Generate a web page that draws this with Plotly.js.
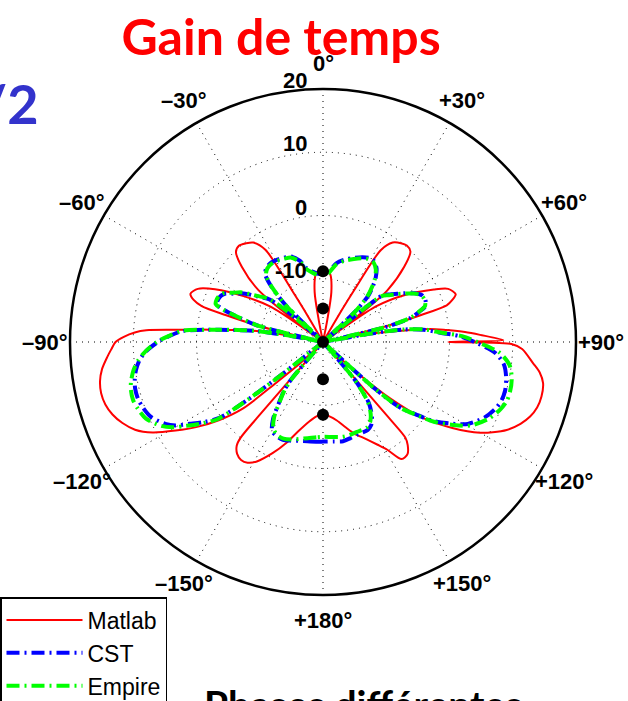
<!DOCTYPE html>
<html>
<head>
<meta charset="utf-8">
<script src="https://cdn.plot.ly/plotly-3.0.1.min.js"></script>
<style>
  html, body { margin: 0; padding: 0; background: #ffffff; }
  #chart { width: 628px; height: 701px; }
</style>
</head>
<body>
<div id="chart"></div>
<script>
// ---- Data (angles in degrees, clockwise from top; gain in dB) ----
const matlabTheta = [-180,-175,-170,-164.4,-160,-155.7,-151,-148,-145.2,-142.5,-140.2,-139.3,-139,-138.5,-134,-133,-131,-129.7,-127,-124,-121,-118,-115,-112,-109,-106,-103,-100,-97,-94,-92,-90,-88.5,-87.1,-86.2,-85.2,-84.2,-83,-81,-79.5,-78.5,-77.5,-76,-74.5,-73.5,-72,-70,-67,-64,-60,-56,-54,-53.5,-51.2,-47.2,-44,-41,-38,-35,-32,-31,-30.5,-29,-12,-11,-9.5,-6.3,-4,0,4,6.3,9.5,11,12,29,30.5,31,32.2,35,38.3,41,44,47.2,51.2,53,54,56,60,64.7,67,70.2,72,73.5,74.6,76,77.5,79,80,81,83,84.5,86,87.4,89.4,90,90.6,92,95.8,98,100.6,104,107,109.8,112.5,115.6,118,120,123.5,127.6,130,131.3,133,134,138.5,139,139.3,140.6,143,146.1,149.1,152,156,161.1,165,170,175,180];
const matlabGain  = [-8.6,-8.2,-7.2,-5.3,-3.0,-0.75,1.6,2.5,2.7,2.3,1.3,0,-4,-20,-20,-15,-10,-3.5,0.5,4,7.2,10.5,12.8,14.2,15.2,15.8,16.0,15.8,15.2,14.2,13.5,12.8,11.5,9.8,8,3,-0.5,-4.5,-8.3,-13,-20,-20,-10,-4,0,1.5,2.3,1.5,-1,-5.5,-10,-20,-20,-6.9,-2.5,-0.2,0.2,-0.2,-0.8,-2.8,-10.4,-14,-20,-20,-16.4,-12,-9.3,-8.7,-8.5,-8.7,-9.3,-12,-16.4,-20,-20,-14,-10.4,-2.8,-0.8,-0.1,0.2,-0.1,-2.5,-6.9,-12,-20,-10,-5.2,-0.6,1.5,2.3,1.5,0.4,-3.9,-10,-20,-20,-13,-9.8,-3,-0.35,2.5,4.85,8.5,-0.2,9.8,11.5,13.4,14.6,15.4,15.6,15.4,14.8,13.8,12.2,10.4,8.7,4.7,-0.65,-6,-10.1,-15,-20,-20,-4,0,1.1,2.2,2.3,-0.1,-1.6,-3.2,-4.7,-6.0,-7.4,-8.2,-8.6];

const cstTheta = [-180,-176,-171,-166,-162,-157.7,-154,-150.2,-147,-144,-141.5,-139.7,-138,-129,-128.3,-127.5,-126.2,-124,-121.6,-119.5,-117.4,-113.4,-110,-107,-104,-101.7,-98.5,-95.5,-93,-90,-88,-85.5,-83.5,-82,-80.7,-79.5,-79,-78,-76,-74,-72,-70.5,-68,-65.5,-63.5,-61.7,-58.5,-55,-51.3,-49,-48,-45.4,-43,-40.4,-37,-33,-29,-25,-21,-16,-12.7,-8,-4,0,4,9.6,15,20.4,25,29.2,32.5,36,39.2,41.5,44.3,46.5,48,49.5,51,52,54.7,57,59.1,62,64.7,67.4,70.6,72.5,74.5,76.5,78,79,80,81.2,83,85.5,87.6,90.6,93.5,97,101,105,108,110.8,115,119.5,122.5,125.7,128,130.4,132,133.5,138.5,140,143,145.5,147.9,150,153,159.2,164,168.6,174,180];
const cstGain  = [-4.25,-4.2,-4.1,-3.9,-3.6,-3.3,-3.4,-3.8,-5.5,-8.2,-10,-12,-20,-20,-12,-5,0.3,2.6,4.7,6.8,8.1,9.7,10.3,10.6,10.6,10.4,9.9,9.1,8.0,6.1,4.5,2.2,-3,-6.5,-9,-14,-20,-20,-9.5,-6.5,-3.5,-2.2,-2.1,-2.3,-2.8,-3.9,-5.3,-7.5,-9.3,-14,-20,-11.8,-8,-5.9,-5.2,-5.0,-5.1,-5.3,-5.5,-6.6,-8,-8.8,-9.2,-9.2,-9.0,-7.4,-6.5,-5.8,-5.2,-4.8,-4.9,-5.6,-6.8,-8,-9.7,-13,-20,-20,-11,-8,-7,-6,-5,-3.6,-2.7,-2.5,-2.8,-4,-5.5,-9.5,-20,-20,-12,-7.1,-4,-1.4,1.7,4.5,7.2,8.8,9.5,9.8,9.7,9.3,8.2,6.3,4,1.4,-1.5,-4,-9,-20,-20,-12,-8,-6.5,-5.4,-4.8,-4.4,-4.4,-4.2,-4.0,-4.2,-4.25];

const empireTheta = [-180,-176,-171,-166,-162,-157.7,-154,-150.2,-147,-144,-141.5,-139.7,-138,-129,-128.3,-127.5,-126.2,-124,-121.6,-119.5,-117.4,-113.4,-110,-107,-104,-101.7,-98.5,-95.5,-93,-90,-88,-85.5,-83.5,-82,-80.7,-79.5,-79,-78,-76,-74,-72,-70.5,-68,-65.5,-63.5,-61.7,-58.5,-55,-51.3,-49,-48,-45.4,-43,-40.4,-37,-33,-29,-25,-21,-16,-12.7,-8,-4,0,4,9.6,15,20.4,25,29.2,32.5,36,39.2,41.5,44.3,46.5,48,49.5,51,52,54.7,57,59.1,62,64.7,67.4,70.6,72.5,74.5,76.5,78,79,80,81.2,83,85.5,87.6,90.6,93.5,97,101,105,108,110.8,115,119.5,122.5,125.7,128,130.4,132,133.5,138.5,140,143,145.5,147.9,150,153,159.2,164,168.6,174,180];
const empireGain = [-5.0,-4.9,-4.6,-4.2,-3.8,-3.5,-3.6,-4.2,-5.8,-8.4,-10.2,-12.5,-20,-20,-12,-5.3,0.6,3,5.3,7.4,8.8,10.5,11.1,11.4,11.3,11.0,10.3,9.3,8.1,6.3,4.6,2.4,-2.8,-6.3,-9,-14,-20,-20,-9.8,-6.6,-3.4,-2.0,-1.9,-2.1,-2.6,-3.6,-5.0,-7.3,-9.2,-14,-20,-12,-8.2,-6.1,-5.4,-5.2,-5.3,-5.5,-5.7,-6.8,-8.2,-9.0,-9.4,-9.4,-9.2,-7.6,-6.7,-6.0,-5.4,-5.0,-5.1,-5.8,-7.0,-8.2,-10,-13,-20,-20,-11,-8.2,-7.2,-6.1,-5.1,-3.7,-2.8,-2.6,-2.9,-4.1,-5.6,-9.6,-20,-20,-12,-7.0,-3.8,-1.2,2.0,5.0,8.0,9.7,10.4,10.6,10.5,10.0,8.8,6.8,4.4,1.6,-1.3,-4,-9,-20,-20,-12.3,-8.3,-6.8,-5.8,-5.2,-4.8,-4.8,-4.7,-4.7,-4.9,-5.0];

const dotTheta = [0, 0, 0, 180, 180];
const dotGain  = [-8.8, -14.7, -20, -14.1, -8.5];

const angleTicks  = [0,30,60,90,120,150,180,210,240,270,300,330];
const angleLabels = ['0°','+30°','+60°','+90°','+120°','+150°','+180°','–150°','–120°','–90°','–60°','–30°'];
const radialTicks  = [-10, 0, 10, 20];
const radialLabels = ['-10', '0', '10', '20'];
const seriesNames = ['Matlab', 'CST', 'Empire'];

// ---- Figure ----
const dashDot = '13px,5px,2px,5px';
const traces = [
  { type:'scatterpolar', mode:'lines', name: seriesNames[0], theta: matlabTheta, r: matlabGain,
    line:{color:'#ff0000', width:2, shape:'spline', smoothing:0.8} },
  { type:'scatterpolar', mode:'lines', name: seriesNames[1], theta: cstTheta, r: cstGain,
    line:{color:'#0000ff', width:4, dash: dashDot, shape:'spline', smoothing:0.8} },
  { type:'scatterpolar', mode:'lines', name: seriesNames[2], theta: empireTheta, r: empireGain,
    line:{color:'#00ff00', width:4, dash: dashDot, shape:'spline', smoothing:0.8} },
  { type:'scatterpolar', mode:'markers', theta: dotTheta, r: dotGain, showlegend:false,
    marker:{color:'#000000', size:12}, cliponaxis:false }
];

const W = 628, H = 701;
const cx = 323, cy = 342, R = 253;
const rMin = -20, rMax = 20;
const labelFont = {family:'Liberation Sans, Arial, sans-serif', size:22, color:'#000', weight:'bold'};

const annotations = [];
// angular tick labels, centred on a ring 10% outside the plot circle (MATLAB polar style)
angleTicks.forEach((a, i) => {
  const rad = a * Math.PI / 180;
  const px = cx + 1.1 * R * Math.sin(rad);
  const py = cy - 1.1 * R * Math.cos(rad);
  annotations.push({ text: angleLabels[i], xref:'paper', yref:'paper', x: px / W, y: 1 - py / H,
    xanchor:'center', yanchor:'middle', showarrow:false, borderpad:0, font: labelFont });
});
// radial tick labels, right-aligned just left of the 0° spoke, sitting on their circle
radialTicks.forEach((v, i) => {
  const rr = (v - rMin) / (rMax - rMin) * R;
  const py = cy - rr;
  annotations.push({ text: radialLabels[i], xref:'paper', yref:'paper', x: (cx - 15) / W, y: 1 - (py + 5) / H,
    xanchor:'right', yanchor:'bottom', showarrow:false, borderpad:0, font: labelFont });
});
annotations.push({ text:'/2', xref:'paper', yref:'paper', x: 40/W, xanchor:'right', y: 1 - 104/H, yanchor:'middle',
  showarrow:false, font:{family:'Lato, sans-serif', size:54, color:'#3333cc', weight:'bold'} });
annotations.push({ text:'Phases différentes', xref:'paper', yref:'paper', x: 202/W, xanchor:'left', y: 1 - 679/H, yanchor:'top',
  showarrow:false, font:{family:'Lato, sans-serif', size:39, color:'#000', weight:'bold'} });

const layout = {
  width: W, height: H,
  margin: {l:0, r:0, t:0, b:0, autoexpand:false},
  paper_bgcolor: '#ffffff',
  showlegend: true,
  title: { text: 'Gain de temps', x: 281/W, xanchor:'center', xref:'paper',
           y: 1 - 37/H, yanchor:'middle', yref:'container',
           font: {family:'Lato, "Open Sans", sans-serif', size:50, color:'#ff0000', weight:'bold'} },
  polar: {
    domain: { x: [(cx-R)/W, (cx+R)/W], y: [(H-cy-R)/H, (H-cy+R)/H] },
    bgcolor: '#ffffff',
    radialaxis: {
      range: [rMin, rMax], tickmode:'array', tickvals: radialTicks, ticktext: radialLabels,
      showticklabels:false, showline:false, ticks:'', gridcolor:'#000', gridwidth:1, griddash:'1px,5px',
      angle: 90
    },
    angularaxis: {
      rotation: 90, direction:'clockwise', tickmode:'array', tickvals: angleTicks, ticktext: angleLabels,
      showticklabels:false, showline:true, linecolor:'#000', linewidth:2.5,
      gridcolor:'#000', gridwidth:1, griddash:'1px,5px', ticks:''
    }
  },
  legend: {
    x: 0, xanchor:'left', xref:'paper', y: (H-597)/H, yanchor:'top', yref:'paper',
    bgcolor:'#ffffff', bordercolor:'#000', borderwidth:1.5,
    font:{family:'Liberation Sans, Arial, sans-serif', size:23, color:'#000'},
    itemwidth: 76, traceorder:'normal'
  },
  annotations: annotations
};

Plotly.newPlot('chart', traces, layout, {displayModeBar:false, staticPlot:true});
</script>
</body>
</html>
